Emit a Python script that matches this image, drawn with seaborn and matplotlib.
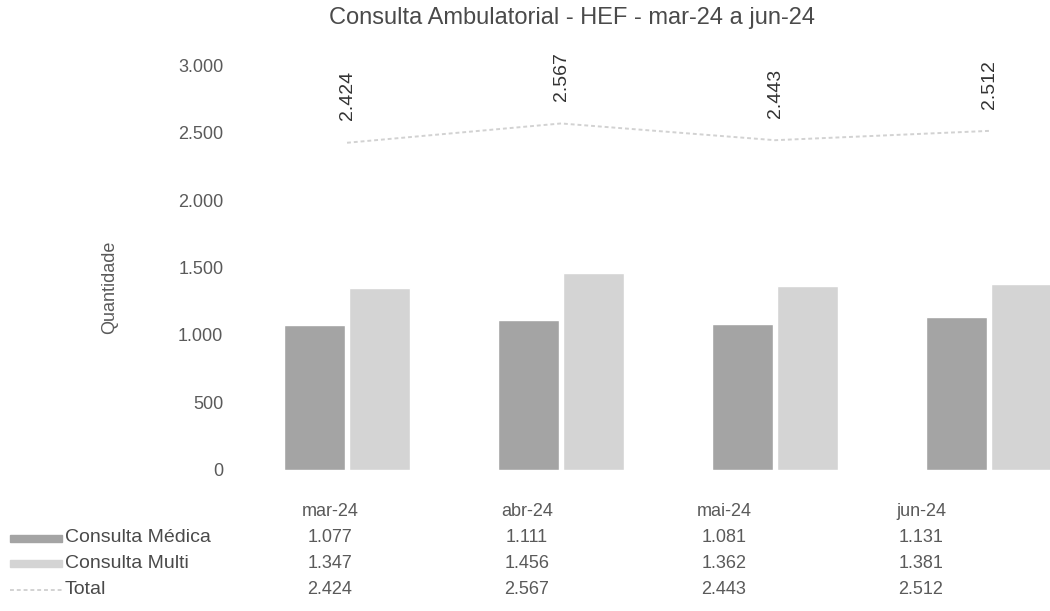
import numpy as np
import pandas as pd
import matplotlib
matplotlib.use("Agg")
import matplotlib.pyplot as plt
from matplotlib.ticker import FuncFormatter
from matplotlib.patches import Rectangle
from matplotlib.lines import Line2D
import seaborn as sns

# --- data ---
months = ["mar-24", "abr-24", "mai-24", "jun-24"]
consulta_medica = [1077, 1111, 1081, 1131]
consulta_multi = [1347, 1456, 1362, 1381]
total = [2424, 2567, 2443, 2512]

series_names = ["Consulta Médica", "Consulta Multi"]
colors = {"Consulta Médica": "#a4a4a4", "Consulta Multi": "#d4d4d4"}
line_color = "#d2d2d2"


def fmt_br(v):
    return f"{v:,.0f}".replace(",", ".")


df = pd.DataFrame({
    "mes": months * 2,
    "serie": [series_names[0]] * 4 + [series_names[1]] * 4,
    "valor": consulta_medica + consulta_multi,
})

sns.set_theme(style="white")
plt.rcParams["font.family"] = ["Liberation Sans", "DejaVu Sans"]

fig = plt.figure(figsize=(10.5, 6.11), dpi=100)
ax = fig.add_axes([0.2286, 0.2308, 0.7714, 0.6628])

sns.barplot(data=df, x="mes", y="valor", hue="serie", order=months,
            hue_order=series_names, palette=colors, width=0.6, gap=0.05,
            saturation=1, legend=False, ax=ax)

# total line
sns.lineplot(x=np.arange(len(months)), y=total, color=line_color,
             linewidth=1.4, linestyle=(0, (2, 1.5)), ax=ax)
for i, v in enumerate(total):
    ax.text(i, v + 165, fmt_br(v), rotation=90, ha="center", va="bottom",
            fontsize=14, color="#333333", clip_on=False)

ax.set_ylim(0, 3000)
ax.set_xlim(-0.5, 3.285)
ax.set_yticks(np.arange(0, 3001, 500))
ax.yaxis.set_major_formatter(FuncFormatter(lambda x, p: fmt_br(x)))
ax.tick_params(axis="y", length=0, pad=12, labelsize=13, labelcolor="#5a5a5a")
ax.set_xticks([])
ax.set_xlabel("")
ax.set_ylabel("Quantidade", fontsize=13, color="#5a5a5a")
ax.yaxis.set_label_coords(-0.15, 0.45)
sns.despine(ax=ax, left=True, bottom=True)

fig.text(572 / 1050, 1 - 18 / 611, "Consulta Ambulatorial - HEF - mar-24 a jun-24",
         ha="center", va="center", fontsize=17, color="#4a4a4a")

# data table under the chart
W, H = 1050, 611
col_x = [330 + i * 197 for i in range(len(months))]
row_y = [512, 538, 563, 590]
for i, m in enumerate(months):
    fig.text(col_x[i] / W, 1 - row_y[0] / H, m, ha="center", va="center",
             fontsize=13, color="#5a5a5a")
rows = [consulta_medica, consulta_multi, total]
for r, vals in enumerate(rows):
    for i, v in enumerate(vals):
        fig.text(col_x[i] / W, 1 - row_y[r + 1] / H, fmt_br(v), ha="center",
                 va="center", fontsize=13, color="#5a5a5a")

labels = series_names + ["Total"]
for r, name in enumerate(labels):
    yc = 1 - row_y[r + 1] / H
    if r < 2:
        fig.patches.append(Rectangle((10 / W, yc - 3.5 / H), 52 / W, 7 / H,
                                     transform=fig.transFigure,
                                     color=colors[name]))
    else:
        fig.lines.append(Line2D([10 / W, 62 / W], [yc, yc],
                                transform=fig.transFigure, color=line_color,
                                linewidth=1.4, linestyle=(0, (2, 1.5))))
    fig.text(65 / W, yc, name, ha="left", va="center", fontsize=14,
             color="#4a4a4a")

fig.savefig("out.png", dpi=100)
